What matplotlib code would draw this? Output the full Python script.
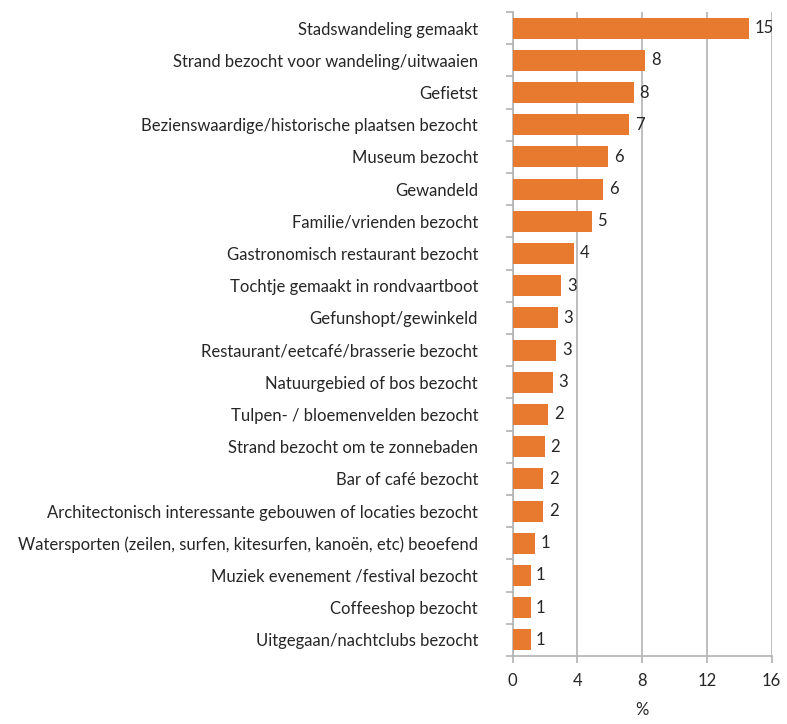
import matplotlib
matplotlib.use("Agg")
import matplotlib.pyplot as plt
import numpy as np

categories = [
    "Stadswandeling gemaakt",
    "Strand bezocht voor wandeling/uitwaaien",
    "Gefietst",
    "Bezienswaardige/historische plaatsen bezocht",
    "Museum bezocht",
    "Gewandeld",
    "Familie/vrienden bezocht",
    "Gastronomisch restaurant bezocht",
    "Tochtje gemaakt in rondvaartboot",
    "Gefunshopt/gewinkeld",
    "Restaurant/eetcafé/brasserie bezocht",
    "Natuurgebied of bos bezocht",
    "Tulpen- / bloemenvelden bezocht",
    "Strand bezocht om te zonnebaden",
    "Bar of café bezocht",
    "Architectonisch interessante gebouwen of locaties bezocht",
    "Watersporten (zeilen, surfen, kitesurfen, kanoën, etc) beoefend",
    "Muziek evenement /festival bezocht",
    "Coffeeshop bezocht",
    "Uitgegaan/nachtclubs bezocht",
]
values = [14.6, 8.2, 7.5, 7.2, 5.9, 5.6, 4.9, 3.8, 3.0, 2.8, 2.7, 2.5, 2.2, 2.0,
          1.9, 1.9, 1.4, 1.1, 1.1, 1.1]
value_labels = ["15", "8", "8", "7", "6", "6", "5", "4", "3", "3", "3", "3", "2", "2",
                "2", "2", "1", "1", "1", "1"]
xticks = [0, 4, 8, 12, 16]

plt.rcParams['font.family'] = ['Lato', 'DejaVu Sans']
text_color = "#262626"
grid_color = "#b3b3b3"
bar_color = "#E87A30"
fs = 12

fig = plt.figure(figsize=(7.87, 7.24), dpi=100)
ax = fig.add_axes([0.6515, 0.094, 0.329, 0.8894])

n = len(categories)
y = np.arange(n)
ax.barh(y, values, height=0.65, color=bar_color, zorder=3)
ax.set_ylim(n - 0.5, -0.5)
ax.set_xlim(0, 16)
ax.set_xticks(xticks)
ax.set_xticklabels([str(t) for t in xticks], fontsize=fs, color=text_color)
ax.xaxis.grid(True, color=grid_color, linewidth=1.2, zorder=0)

for yi, v, lab in zip(y, values, value_labels):
    ax.annotate(lab, (v, yi), xytext=(4, 0), textcoords="offset points",
                va="center", ha="left", fontsize=fs, color=text_color)

ax.set_yticks(y)
ax.set_yticklabels(categories, fontsize=fs, color=text_color)
ax.tick_params(axis="y", length=0, pad=25)
# boundary ticks
ax.set_yticks(np.arange(-0.5, n + 0.5, 1), minor=True)
ax.tick_params(axis="y", which="minor", length=5, color=grid_color, width=1.2)
ax.tick_params(axis="x", length=5, color=grid_color, width=1.2, pad=7)

for s in ["top", "right"]:
    ax.spines[s].set_visible(False)
for s in ["left", "bottom"]:
    ax.spines[s].set_color(grid_color)
    ax.spines[s].set_linewidth(1.2)

ax.set_xlabel("%", fontsize=fs, color=text_color, labelpad=10)

fig.savefig("out.png", dpi=100, facecolor="white")
